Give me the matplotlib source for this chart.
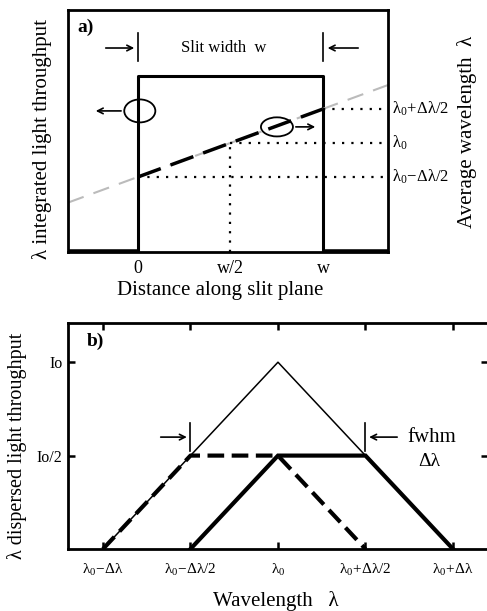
import matplotlib
matplotlib.use('Agg')
import matplotlib.pyplot as plt
from matplotlib.patches import Ellipse
import matplotlib.transforms as mtransforms

plt.rcParams['font.family'] = ['Liberation Serif', 'DejaVu Serif']
plt.rcParams['mathtext.fontset'] = 'stix'
plt.rcParams['mathtext.default'] = 'regular'

# panel a: slit (x in units of slit width w)
xa_min, xa_max = -0.378, 1.351
slit_x = [0, 0, 1, 1]
slit_y = [0, 0.727, 0.727, 0]
outside_left_x = [xa_min, 0]
outside_right_x = [1, xa_max]
wl_x = [xa_min, 1.351]
wl_y = [0.204, 0.69]
inside_x = [0, 1]
inside_y = [0.31, 0.591]
lam_levels = [0.591, 0.45, 0.31]
lam_start = [1, 0.5, 0]
lam_labels = [r'$λ_0\!+\!Δλ/2$', r'$λ_0$', r'$λ_0\!-\!Δλ/2$']
a_ticks = [0, 0.5, 1]
a_ticklabels = ['0', 'w/2', 'w']

# panel b: dispersed profiles (x in units of dlambda around lambda0, y in Io)
thin_x = [-1, 0, 1]
thin_y = [0, 1, 0]
dash_x = [-1, -0.5, 0, 0.5]
dash_y = [0, 0.5, 0.5, 0]
solid_x = [-0.5, 0, 0.5, 1]
solid_y = [0, 0.5, 0.5, 0]
b_ticks = [-1, -0.5, 0, 0.5, 1]
b_ticklabels = [r'$λ_0\!-\!Δλ$', r'$λ_0\!-\!Δλ/2$', r'$λ_0$',
                r'$λ_0\!+\!Δλ/2$', r'$λ_0\!+\!Δλ$']
b_yticks = [1, 0.5]
b_yticklabels = ['Io', 'Io/2']

fig = plt.figure(figsize=(4.87, 6.11), dpi=100)

# ---- panel a ----
ax1 = fig.add_axes([0.1396, 0.5876, 0.6571, 0.3960])
ax1.set_xlim(xa_min, xa_max)
ax1.set_ylim(0, 1)
for s in ax1.spines.values():
    s.set_linewidth(2)
ax1.plot(slit_x, slit_y, color='black', lw=2.2)
ax1.plot(outside_left_x, [0, 0], color='black', lw=4, solid_capstyle='butt')
ax1.plot(outside_right_x, [0, 0], color='black', lw=4, solid_capstyle='butt')
ax1.plot(wl_x, wl_y, color='#bbbbbb', lw=1.5, dashes=(8, 5))
ax1.plot(inside_x, inside_y, color='black', lw=2.5, dashes=(7, 3))

for lev, x0 in zip(lam_levels, lam_start):
    ax1.plot([x0, xa_max], [lev, lev], color='black', lw=1.6, dashes=(1, 3.2))
ax1.plot([0.5, 0.5], [0, lam_levels[1]], color='black', lw=1.6, dashes=(1, 3.2))

trans = mtransforms.blended_transform_factory(ax1.transAxes, ax1.transData)
for lev, lab in zip(lam_levels, lam_labels):
    ax1.text(1.012, lev, lab, transform=trans, fontsize=12, va='center', ha='left', clip_on=False)

ax1.set_xticks(a_ticks)
ax1.set_xticklabels(a_ticklabels, fontsize=13)
ax1.set_yticks([])
ax1.tick_params(axis='x', length=0, pad=6)

# slit width arrows
ax1.plot([0, 0], [0.789, 0.905], color='black', lw=1.2)
ax1.plot([1, 1], [0.789, 0.905], color='black', lw=1.2)
ax1.annotate('', xy=(-0.005, 0.843), xytext=(-0.189, 0.843),
             arrowprops=dict(arrowstyle='->', lw=1.2, color='black'))
ax1.annotate('', xy=(1.01, 0.843), xytext=(1.205, 0.843),
             arrowprops=dict(arrowstyle='->', lw=1.2, color='black'))
ax1.text(0.465, 0.843, 'Slit width  w', fontsize=12, ha='center', va='center')
ax1.text(0.03, 0.93, 'a)', transform=ax1.transAxes, fontsize=14, fontweight='bold', va='center')

# ellipses with arrows
ax1.add_patch(Ellipse((0.01, 0.583), 0.168, 0.095, fill=False, lw=1.3, color='black'))
ax1.annotate('', xy=(-0.243, 0.583), xytext=(-0.076, 0.583),
             arrowprops=dict(arrowstyle='->', lw=1.2, color='black'))
ax1.add_patch(Ellipse((0.751, 0.517), 0.173, 0.079, fill=False, lw=1.3, color='black'))
ax1.annotate('', xy=(0.973, 0.517), xytext=(0.838, 0.517),
             arrowprops=dict(arrowstyle='->', lw=1.2, color='black'))

fig.text(0.086, 0.7725, 'λ integrated light throughput', rotation=90, fontsize=15, ha='center', va='center')
fig.text(0.959, 0.784, 'Average wavelength  λ', rotation=90, fontsize=15, ha='center', va='center')
fig.text(0.452, 0.525, 'Distance along slit plane', fontsize=15, ha='center', va='center')

# ---- panel b ----
ax2 = fig.add_axes([0.1396, 0.1015, 0.8624, 0.3699])
ax2.set_xlim(-1.2, 1.2)
ax2.set_ylim(0, 1.21)
for s in ax2.spines.values():
    s.set_linewidth(2)
ax2.plot(thin_x, thin_y, color='black', lw=1.1)
ax2.plot(solid_x, solid_y, color='black', lw=3, solid_joinstyle='miter')
ax2.plot(dash_x, dash_y, color='black', lw=3, dashes=(4, 1.8))

ax2.set_xticks(b_ticks)
ax2.set_xticklabels(b_ticklabels, fontsize=11)
ax2.set_yticks(b_yticks)
ax2.set_yticklabels(b_yticklabels, fontsize=11.5)
ax2.tick_params(direction='in', length=5, width=1.8, top=True, right=True)
ax2.tick_params(axis='x', pad=9)
ax2.tick_params(axis='y', pad=4)

# fwhm arrows
ax2.plot([-0.5, -0.5], [0.524, 0.674], color='black', lw=1.2)
ax2.plot([0.5, 0.5], [0.524, 0.674], color='black', lw=1.2)
ax2.annotate('', xy=(-0.505, 0.599), xytext=(-0.686, 0.599),
             arrowprops=dict(arrowstyle='->', lw=1.2, color='black'))
ax2.annotate('', xy=(0.505, 0.599), xytext=(0.697, 0.599),
             arrowprops=dict(arrowstyle='->', lw=1.2, color='black'))
ax2.text(0.74, 0.599, 'fwhm', fontsize=15, ha='left', va='center')
ax2.text(0.866, 0.47, 'Δλ', fontsize=14, ha='center', va='center')
ax2.text(0.045, 0.92, 'b)', transform=ax2.transAxes, fontsize=14, fontweight='bold', va='center')

fig.text(0.034, 0.27, 'λ dispersed light throughput', rotation=90, fontsize=14.5, ha='center', va='center')
fig.text(0.566, 0.017, 'Wavelength   λ', fontsize=15, ha='center', va='center')

fig.savefig('out.png', dpi=100)
